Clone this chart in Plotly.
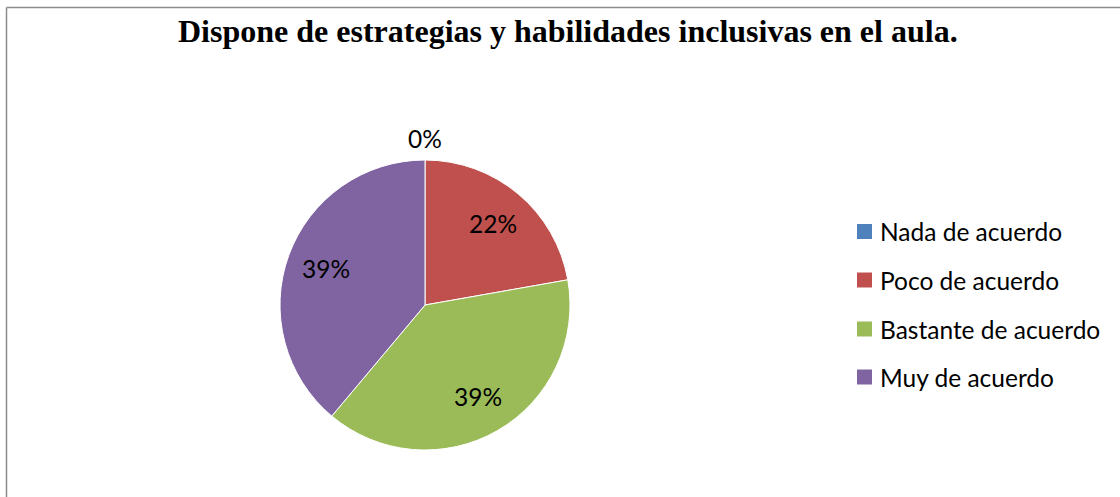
import math
import plotly.graph_objects as go

W, H = 1120, 497

categories = ["Nada de acuerdo", "Poco de acuerdo", "Bastante de acuerdo", "Muy de acuerdo"]
counts = [0, 4, 7, 7]
colors = ["#4F81BD", "#C0504D", "#9BBB59", "#8064A2"]
title_text = "Dispone de estrategias y habilidades inclusivas en el aula."

FONT = "Lato"


def px_x(x):
    return x / W


def px_y(y):
    return 1 - y / H


# pie placement (pixels)
cx, cy, r = 425, 305, 145

fig = go.Figure(
    go.Pie(
        labels=categories,
        values=counts,
        sort=False,
        direction="clockwise",
        rotation=0,
        marker=dict(colors=colors, line=dict(color="white", width=1)),
        textinfo="none",
        showlegend=False,
        hoverinfo="label+percent",
        domain=dict(x=[px_x(cx - r), px_x(cx + r)], y=[px_y(cy + r), px_y(cy - r)]),
    )
)

shapes = [
    # chart frame (top and left edges visible)
    dict(type="line", xref="paper", yref="paper", x0=px_x(6.5), x1=1.01, y0=px_y(7.5), y1=px_y(7.5),
         line=dict(color="#8c8c8c", width=1.5)),
    dict(type="line", xref="paper", yref="paper", x0=px_x(6.5), x1=px_x(6.5), y0=px_y(7.5), y1=-0.01,
         line=dict(color="#8c8c8c", width=1.5)),
]
annotations = [
    dict(text="<b>" + title_text + "</b>", xref="paper", yref="paper", x=px_x(567.5), y=px_y(31),
         xanchor="center", yanchor="middle", showarrow=False,
         font=dict(family="Liberation Serif", size=32, color="black")),
]

# percentage labels at each slice's mid-angle (clockwise from 12 o'clock)
total = sum(counts)
start = 0.0
for v in counts:
    frac = v / total
    mid = (start + frac / 2) * 2 * math.pi
    dist = 0.73 * r if frac > 0.03 else r + 22
    annotations.append(dict(text=f"{round(frac * 100)}%", xref="paper", yref="paper",
                            x=px_x(cx + dist * math.sin(mid)), y=px_y(cy - dist * math.cos(mid)),
                            xanchor="center", yanchor="middle", showarrow=False,
                            font=dict(family=FONT, size=24.5, color="black")))
    start += frac

# legend drawn as swatches + labels
row_y = [231.5, 280, 329, 377]
for name, col, yy in zip(categories, colors, row_y):
    shapes.append(dict(type="rect", xref="paper", yref="paper",
                       x0=px_x(857), x1=px_x(872), y0=px_y(yy + 7.5), y1=px_y(yy - 7.5),
                       fillcolor=col, line=dict(width=0)))
    annotations.append(dict(text=name, xref="paper", yref="paper", x=px_x(878), y=px_y(yy),
                            xanchor="left", yanchor="middle", showarrow=False,
                            font=dict(family=FONT, size=24.5, color="black")))

fig.update_layout(
    width=W,
    height=H,
    margin=dict(l=0, r=0, t=0, b=0),
    paper_bgcolor="white",
    plot_bgcolor="white",
    shapes=shapes,
    annotations=annotations,
)

fig.write_html("out.html")
